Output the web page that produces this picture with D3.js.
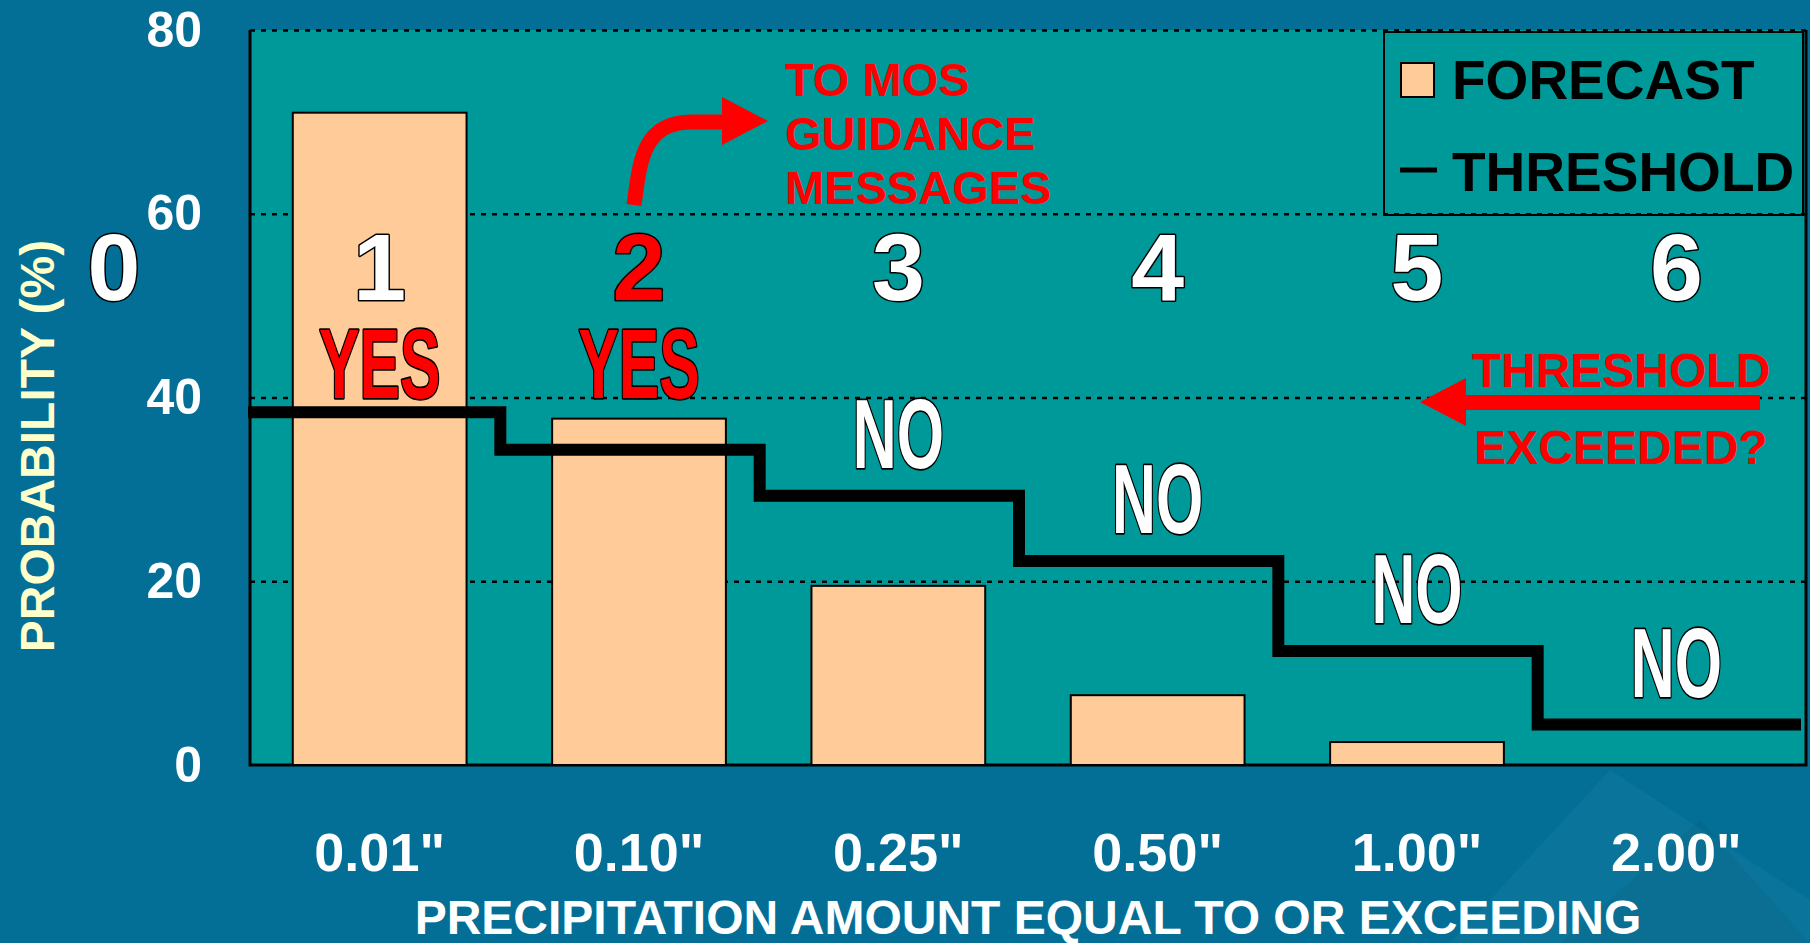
<!DOCTYPE html>
<html>
<head>
<meta charset="utf-8">
<script src="https://cdn.jsdelivr.net/npm/d3@7"></script>
<style>
  html, body { margin: 0; padding: 0; background: #036f97; overflow: hidden; }
  text { font-family: "Liberation Sans", Arial, Helvetica, sans-serif; font-weight: bold; }
</style>
</head>
<body>
<svg id="chart" width="1810" height="943"></svg>
<script>
// Precipitation amount categories (equal to or exceeding)
const categories = ['0.01"', '0.10"', '0.25"', '0.50"', '1.00"', '2.00"'];
// Forecast probability (%) for each category
const forecast = [71, 37.7, 19.5, 7.6, 2.5, 0];
// Threshold probability (%) for each category
const threshold = [38.4, 34.3, 29.3, 22.2, 12.4, 4.4];
// Y axis ticks
const yTicks = [0, 20, 40, 60, 80];
const gridTicks = [20, 40, 60, 80];
// Step numbers shown above each category, and the verdict for each
const stepLabels = ["1", "2", "3", "4", "5", "6"];
const verdicts = ["YES", "YES", "NO", "NO", "NO", "NO"];
const highlightStep = "2";

const W = 1810, H = 943;
const margin = { top: 30, right: 4, bottom: 178, left: 250 };
const plotW = W - margin.left - margin.right;
const plotH = H - margin.top - margin.bottom;

const COLORS = {
  outer: "#036f97",
  plot: "#009999",
  bar: "#ffcc99",
  red: "#ff0000",
  axisTitle: "#ffffcc"
};

const svg = d3.select("#chart");

svg.append("rect").attr("width", W).attr("height", H).attr("fill", COLORS.outer);

// faint background swoosh in the lower right corner
svg.append("path")
  .attr("d", "M1450,943 L1610,770 L1810,900 L1810,943 Z")
  .attr("fill", "#ffffff").attr("opacity", 0.035);
svg.append("path")
  .attr("d", "M1560,943 L1700,820 L1810,943 Z")
  .attr("fill", "#000000").attr("opacity", 0.04);

const x = d3.scaleBand()
  .domain(categories)
  .range([0, plotW])
  .paddingInner(0.33)
  .paddingOuter(0.165);

const y = d3.scaleLinear().domain([0, 80]).range([plotH, 0]);

const g = svg.append("g").attr("transform", `translate(${margin.left},${margin.top})`);

// plot background
g.append("rect").attr("width", plotW).attr("height", plotH).attr("fill", COLORS.plot);

// dotted gridlines
const grid = g.append("g")
  .call(d3.axisLeft(y).tickValues(gridTicks).tickSize(-plotW).tickFormat(""));
grid.select(".domain").remove();
grid.selectAll(".tick line")
  .attr("stroke", "#000").attr("stroke-width", 2.5).attr("stroke-dasharray", "5,6");

// plot frame (left, bottom, right)
g.append("path")
  .attr("d", `M0,0 V${plotH} H${plotW} V0`)
  .attr("fill", "none").attr("stroke", "#000").attr("stroke-width", 3);

// forecast bars
g.selectAll("rect.bar")
  .data(categories.map((c, i) => ({ c, v: forecast[i] })).filter(d => d.v > 0))
  .join("rect")
  .attr("class", "bar")
  .attr("x", d => x(d.c))
  .attr("width", x.bandwidth())
  .attr("y", d => y(d.v))
  .attr("height", d => plotH - y(d.v))
  .attr("fill", COLORS.bar)
  .attr("stroke", "#000").attr("stroke-width", 2);

// threshold step line, stepping at category boundaries
const step = x.step();
const shift = 9;
const stepPts = [[-2, threshold[0]]];
for (let i = 1; i < threshold.length; i++) {
  stepPts.push([i * step - shift, threshold[i - 1]]);
  stepPts.push([i * step - shift, threshold[i]]);
}
stepPts.push([plotW - 5, threshold[threshold.length - 1]]);
g.append("path")
  .attr("d", d3.line().x(d => d[0]).y(d => y(d[1]))(stepPts))
  .attr("fill", "none").attr("stroke", "#000").attr("stroke-width", 12)
  .attr("stroke-linejoin", "miter");

// y axis
const yAxis = g.append("g")
  .call(d3.axisLeft(y).tickValues(yTicks).tickSize(0).tickPadding(48));
yAxis.select(".domain").remove();
yAxis.selectAll("text")
  .attr("fill", "#fff").attr("font-size", 50)
  .style("font-family", '"Liberation Sans", Arial, sans-serif').style("font-weight", "bold");

// x axis
const xAxis = g.append("g")
  .attr("transform", `translate(0,${plotH})`)
  .call(d3.axisBottom(x).tickSize(0).tickPadding(68));
xAxis.select(".domain").remove();
xAxis.selectAll("text")
  .attr("fill", "#fff").attr("font-size", 54)
  .style("font-family", '"Liberation Sans", Arial, sans-serif').style("font-weight", "bold");

// axis titles
svg.append("text")
  .attr("transform", `translate(54,${margin.top + plotH * 0.566}) rotate(-90)`)
  .attr("text-anchor", "middle")
  .attr("font-size", 48)
  .attr("fill", COLORS.axisTitle)
  .text("PROBABILITY (%)");

svg.append("text")
  .attr("x", margin.left + plotW / 2)
  .attr("y", 934)
  .attr("text-anchor", "middle")
  .attr("font-size", 48)
  .attr("fill", "#fff")
  .text("PRECIPITATION AMOUNT EQUAL TO OR EXCEEDING");

// outlined annotation text helper
function outlined(sel, fill, sw) {
  return sel.attr("fill", fill).attr("stroke", "#000").attr("stroke-width", sw)
    .attr("paint-order", "stroke").attr("stroke-linejoin", "round");
}

// step numbers above each category, plus a leading 0
const stepBase = 300 - margin.top;
outlined(g.append("text")
  .attr("x", 114 - margin.left).attr("y", stepBase)
  .attr("text-anchor", "middle").attr("font-size", 95)
  .text("0"), "#fff", 3);

g.selectAll("text.stepnum")
  .data(stepLabels)
  .join("text")
  .attr("class", "stepnum")
  .attr("x", (d, i) => x(categories[i]) + x.bandwidth() / 2)
  .attr("y", stepBase)
  .attr("text-anchor", "middle")
  .attr("font-size", 95)
  .each(function (d) { outlined(d3.select(this), d === highlightStep ? COLORS.red : "#fff", 3); })
  .text(d => d);

// verdict labels (condensed lettering)
g.selectAll("text.verdict")
  .data(verdicts.map((v, i) => ({ v, i })))
  .join("text")
  .attr("class", "verdict")
  .attr("transform", d => {
    const cx = x(categories[d.i]) + x.bandwidth() / 2;
    const by = d.v === "YES" ? y(40) : y(threshold[d.i]) - 28;
    return `translate(${cx},${by}) scale(0.62,1)`;
  })
  .attr("text-anchor", "middle")
  .attr("font-size", 98)
  .each(function (d) { outlined(d3.select(this), d.v === "YES" ? COLORS.red : "#fff", 3.5); })
  .text(d => d.v);

// "TO MOS GUIDANCE MESSAGES" callout with curved arrow
const msgLines = ["TO MOS", "GUIDANCE", "MESSAGES"];
svg.append("g").selectAll("text")
  .data(msgLines)
  .join("text")
  .attr("x", 785)
  .attr("y", (d, i) => 96 + i * 54)
  .attr("font-size", 47)
  .attr("fill", COLORS.red)
  .text(d => d);

svg.append("path")
  .attr("d", "M634,205 C640,160 643,122 692,122 L724,122")
  .attr("fill", "none").attr("stroke", COLORS.red).attr("stroke-width", 15);
svg.append("path")
  .attr("d", "M722,97 L768,121 L722,145 Z")
  .attr("fill", COLORS.red);

// "THRESHOLD EXCEEDED?" callout with left arrow
const exLines = ["THRESHOLD", "EXCEEDED?"];
svg.append("g").selectAll("text")
  .data(exLines)
  .join("text")
  .attr("x", 1621)
  .attr("y", (d, i) => 387 + i * 77)
  .attr("text-anchor", "middle")
  .attr("font-size", 48)
  .attr("fill", COLORS.red)
  .text(d => d);

svg.append("rect")
  .attr("x", 1462).attr("y", 395).attr("width", 298).attr("height", 15)
  .attr("fill", COLORS.red);
svg.append("path")
  .attr("d", "M1466,378 L1420,402 L1466,426 Z")
  .attr("fill", COLORS.red);

// legend
const lg = svg.append("g");
lg.append("rect")
  .attr("x", 1384).attr("y", 32).attr("width", 419).attr("height", 183)
  .attr("fill", "none").attr("stroke", "#000").attr("stroke-width", 2);
lg.append("rect")
  .attr("x", 1401).attr("y", 63).attr("width", 33).attr("height", 34)
  .attr("fill", COLORS.bar).attr("stroke", "#000").attr("stroke-width", 2);
lg.append("text").attr("x", 1452).attr("y", 99).attr("font-size", 55).attr("fill", "#000").text("FORECAST");
lg.append("line")
  .attr("x1", 1400).attr("x2", 1437).attr("y1", 170).attr("y2", 170)
  .attr("stroke", "#000").attr("stroke-width", 5);
lg.append("text").attr("x", 1452).attr("y", 191).attr("font-size", 55).attr("fill", "#000").text("THRESHOLD");
</script>
</body>
</html>
